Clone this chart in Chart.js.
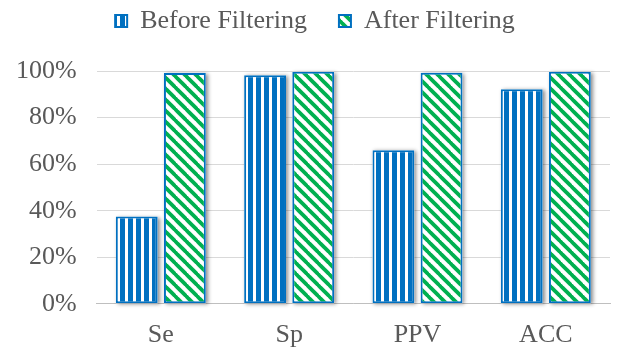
<!DOCTYPE html>
<html>
<head>
<meta charset="utf-8">
<script src="https://cdn.jsdelivr.net/npm/chart.js@4/dist/chart.umd.min.js"></script>
<style>
  html, body { margin: 0; padding: 0; background: #ffffff; }
  #wrap { width: 624px; height: 349px; position: relative; }
</style>
</head>
<body>
<div id="wrap"><canvas id="chart" width="624" height="349"></canvas></div>
<script>
// Metrics and percentage scores before / after the filtering step
const categories = ['Se', 'Sp', 'PPV', 'ACC'];
const beforeFiltering = [37.5, 98.2, 66.0, 92.2];
const afterFiltering = [99.1, 99.7, 99.2, 99.7];
const seriesNames = ['Before Filtering', 'After Filtering'];
const yTicks = [0, 20, 40, 60, 80, 100];

const BLUE = '#0070C0';
const GREEN = '#00B050';
const TEXT = '#595959';
const FONT = "'Liberation Serif', 'Times New Roman', serif";

// Vertical blue stripes on white
function verticalStripes() {
  const c = document.createElement('canvas');
  c.width = 8; c.height = 8;
  const g = c.getContext('2d');
  g.fillStyle = '#ffffff';
  g.fillRect(0, 0, 8, 8);
  g.fillStyle = BLUE;
  g.fillRect(0, 0, 5, 8);
  return g.createPattern(c, 'repeat');
}

// Wide downward diagonal green stripes on white
function diagonalStripes() {
  const s = 11;
  const c = document.createElement('canvas');
  c.width = s; c.height = s;
  const g = c.getContext('2d');
  g.fillStyle = '#ffffff';
  g.fillRect(0, 0, s, s);
  g.strokeStyle = GREEN;
  g.lineWidth = 3.8;
  [-s, 0, s].forEach(off => {
    g.beginPath();
    g.moveTo(off - 1, -1);
    g.lineTo(off + s + 1, s + 1);
    g.stroke();
  });
  return g.createPattern(c, 'repeat');
}

// Soft drop shadow behind every bar, using the bar elements' own geometry
const barShadow = {
  id: 'barShadow',
  beforeDatasetsDraw(chart) {
    const ctx = chart.ctx;
    ctx.save();
    ctx.shadowColor = 'rgba(0,0,0,0.45)';
    ctx.shadowBlur = 4;
    ctx.shadowOffsetX = 2;
    ctx.shadowOffsetY = 1;
    ctx.fillStyle = '#ffffff';
    chart.data.datasets.forEach((ds, i) => {
      chart.getDatasetMeta(i).data.forEach(bar => {
        const p = bar.getProps(['x', 'y', 'base', 'width'], true);
        ctx.fillRect(p.x - p.width / 2, p.y, p.width, p.base - p.y);
      });
    });
    ctx.restore();
  }
};

// Nudge the legend block up and right after layout
const legendOffset = { dx: 12, dy: -27 };
const legendShift = {
  id: 'legendShift',
  afterLayout(chart) {
    const lg = chart.legend;
    if (!lg) return;
    lg.left += legendOffset.dx;
    lg.right += legendOffset.dx;
    lg.top += legendOffset.dy;
    lg.bottom += legendOffset.dy;
  }
};

const ctx = document.getElementById('chart').getContext('2d');
new Chart(ctx, {
  type: 'bar',
  data: {
    labels: categories,
    datasets: [
      {
        label: seriesNames[0],
        data: beforeFiltering,
        backgroundColor: verticalStripes(),
        borderColor: BLUE,
        borderWidth: 2,
        borderSkipped: false
      },
      {
        label: seriesNames[1],
        data: afterFiltering,
        backgroundColor: diagonalStripes(),
        borderColor: BLUE,
        borderWidth: 2,
        borderSkipped: false
      }
    ]
  },
  options: {
    responsive: false,
    animation: false,
    devicePixelRatio: 1,
    layout: { padding: { left: -4, right: 14, top: 3, bottom: -18 } },
    datasets: {
      bar: { categoryPercentage: 0.75, barPercentage: 0.87 }
    },
    plugins: {
      legend: {
        position: 'top',
        labels: {
          boxWidth: 12,
          boxHeight: 12,
          padding: 32,
          color: TEXT,
          font: { family: FONT, size: 26 }
        }
      },
      tooltip: { enabled: false }
    },
    scales: {
      x: {
        grid: { display: false, drawTicks: false },
        border: { display: true, color: '#BFBFBF', width: 1 },
        ticks: {
          color: TEXT,
          padding: 16,
          font: { family: FONT, size: 26 }
        }
      },
      y: {
        min: 0,
        max: 100,
        afterBuildTicks(axis) {
          axis.ticks = yTicks.map(v => ({ value: v }));
        },
        grid: { color: '#D9D9D9', lineWidth: 1, drawTicks: false },
        border: { display: false },
        ticks: {
          color: TEXT,
          padding: 20,
          font: { family: FONT, size: 26 },
          callback: v => v + '%'
        }
      }
    }
  },
  plugins: [barShadow, legendShift]
});
</script>
</body>
</html>
